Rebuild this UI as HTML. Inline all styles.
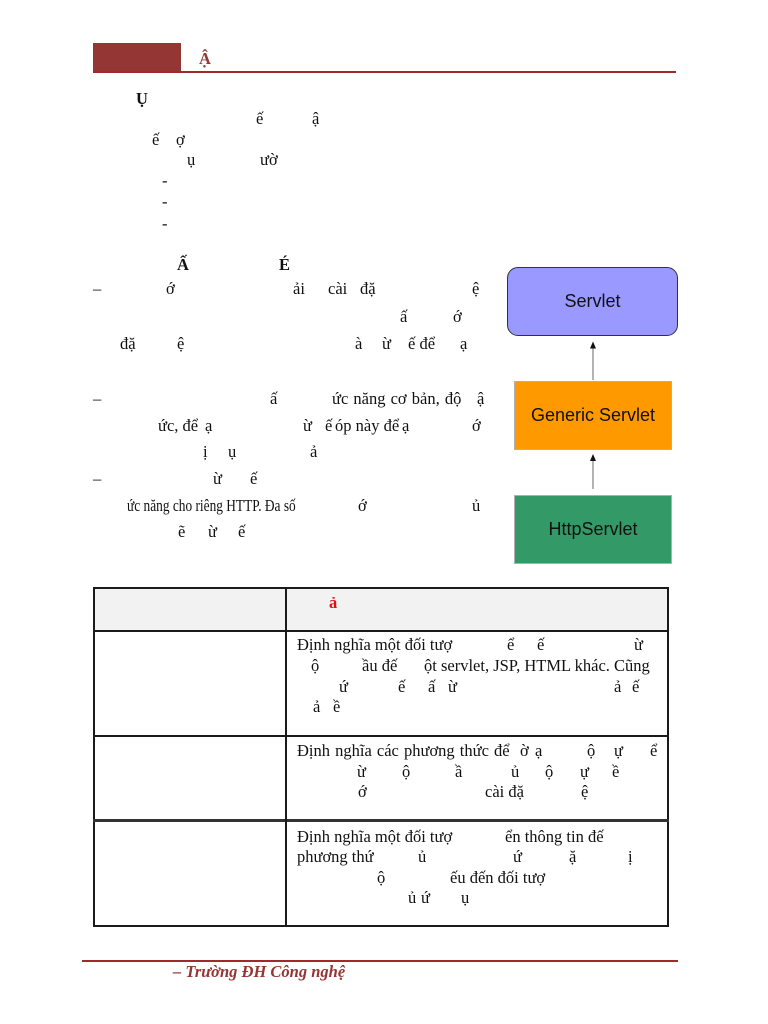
<!DOCTYPE html>
<html>
<head>
<meta charset="utf-8">
<style>
  html,body{margin:0;padding:0;background:#fff;}
  body{width:768px;height:1024px;position:relative;overflow:hidden;
       font-family:"Liberation Serif","Noto Serif CJK SC",serif;color:#111;}
  .l{position:absolute;left:0;width:768px;height:20px;font-size:16.5px;line-height:20px;}
  .l span{position:absolute;top:0;white-space:pre;}
  .b{font-weight:bold;}
  .box{position:absolute;box-sizing:border-box;display:flex;align-items:center;justify-content:center;
       font-family:"Liberation Sans",Arial,sans-serif;font-size:18px;color:#111;}
  .hl{position:absolute;background:#1a1a1a;}
</style>
</head>
<body>

<!-- Header -->
<div style="position:absolute;left:93px;top:43px;width:88px;height:29px;background:#943634;"></div>
<div style="position:absolute;left:93px;top:71px;width:583px;height:2px;background:#a0292c;"></div>
<div class="l b" style="top:48.5px;color:#943634;"><span style="left:199px">Ậ</span></div>

<!-- Section 1 -->
<div class="l b" style="top:88.5px"><span style="left:136px">Ụ</span></div>
<div class="l" style="top:108.5px"><span style="left:256px">ế</span><span style="left:312px">ậ</span></div>
<div class="l" style="top:129.5px"><span style="left:152px">ế</span><span style="left:176px">ợ</span></div>
<div class="l" style="top:149.5px"><span style="left:187px">ụ</span><span style="left:260px">ườ</span></div>
<div class="l" style="top:170.5px"><span style="left:162px">-</span></div>
<div class="l" style="top:191.5px"><span style="left:162px">-</span></div>
<div class="l" style="top:213.5px"><span style="left:162px">-</span></div>

<!-- Section 2 -->
<div class="l b" style="top:254.5px"><span style="left:177px">Ấ</span><span style="left:279px">É</span></div>
<div class="l" style="top:278.5px">
  <span style="left:93px">–</span><span style="left:166px">ớ</span><span style="left:293px">ải</span>
  <span style="left:328px">cài</span><span style="left:360px">đặ</span><span style="left:472px">ệ</span>
</div>
<div class="l" style="top:306.5px"><span style="left:400px">ấ</span><span style="left:453px">ớ</span></div>
<div class="l" style="top:333.5px">
  <span style="left:120px">đặ</span><span style="left:177px">ệ</span><span style="left:355px">à</span>
  <span style="left:382px">ừ</span><span style="left:408px">ế để</span><span style="left:460px">ạ</span>
</div>
<div class="l" style="top:388.5px">
  <span style="left:93px">–</span><span style="left:270px">ấ</span>
  <span style="left:332px;word-spacing:1px">ức năng cơ bản, độ</span><span style="left:477px">ậ</span>
</div>
<div class="l" style="top:415.5px">
  <span style="left:158px">ức, để</span><span style="left:205px">ạ</span><span style="left:303px">ừ</span>
  <span style="left:325px">ế</span><span style="left:335px">óp này để</span><span style="left:402px">ạ</span><span style="left:472px">ớ</span>
</div>
<div class="l" style="top:441.5px"><span style="left:203px">ị</span><span style="left:228px">ụ</span><span style="left:310px">ả</span></div>
<div class="l" style="top:468.5px"><span style="left:93px">–</span><span style="left:213px">ừ</span><span style="left:250px">ế</span></div>
<div class="l" style="top:495.5px">
  <span style="left:127px;transform:scaleX(0.81);transform-origin:0 0;">ức năng cho riêng HTTP. Đa số</span>
  <span style="left:358px">ớ</span><span style="left:472px">ủ</span>
</div>
<div class="l" style="top:521.5px"><span style="left:178px">ẽ</span><span style="left:208px">ừ</span><span style="left:238px">ế</span></div>

<!-- Diagram -->
<div class="box" style="left:507px;top:267px;width:171px;height:69px;background:#9999ff;border:1px solid #333;border-radius:11px;">Servlet</div>
<div class="box" style="left:514px;top:381px;width:158px;height:69px;background:#ff9900;border:1px solid #b0b0b0;">Generic Servlet</div>
<div class="box" style="left:514px;top:495px;width:158px;height:69px;background:#339966;border:1px solid #b0b0b0;">HttpServlet</div>
<svg style="position:absolute;left:0;top:0" width="768" height="1024">
  <line x1="593" y1="380" x2="593" y2="346" stroke="#808080" stroke-width="1.2"/>
  <polygon points="593,341.5 590,348.5 596,348.5" fill="#111"/>
  <line x1="593" y1="489" x2="593" y2="459" stroke="#808080" stroke-width="1.2"/>
  <polygon points="593,454 590,461 596,461" fill="#111"/>
</svg>

<!-- Table -->
<div style="position:absolute;left:94px;top:588px;width:574px;height:42px;background:#f2f2f2;"></div>
<div style="position:absolute;left:93px;top:587px;width:576px;height:340px;box-sizing:border-box;border:2px solid #1a1a1a;"></div>
<div class="hl" style="left:93px;top:629.5px;width:576px;height:2px;"></div>
<div class="hl" style="left:93px;top:734.5px;width:576px;height:2px;"></div>
<div class="hl" style="left:93px;top:818.5px;width:576px;height:3px;background:#333;"></div>
<div class="hl" style="left:285px;top:587px;width:2px;height:340px;"></div>

<div class="l b" style="top:592.5px;color:#e01010;"><span style="left:329px">ả</span></div>

<!-- Row 2 -->
<div class="l" style="top:634.5px">
  <span style="left:297px">Định nghĩa một đối tượ</span><span style="left:507px">ể</span>
  <span style="left:537px">ế</span><span style="left:634px">ừ</span>
</div>
<div class="l" style="top:655.5px">
  <span style="left:311px">ộ</span><span style="left:362px">ầu đế</span>
  <span style="left:424px">ột servlet, JSP, HTML khác. Cũng</span>
</div>
<div class="l" style="top:676.5px">
  <span style="left:339px">ứ</span><span style="left:398px">ế</span><span style="left:428px">ấ</span>
  <span style="left:448px">ừ</span><span style="left:614px">ả</span><span style="left:632px">ế</span>
</div>
<div class="l" style="top:696.5px"><span style="left:313px">ả</span><span style="left:333px">ề</span></div>

<!-- Row 3 -->
<div class="l" style="top:740.5px">
  <span style="left:297px;word-spacing:1px">Định nghĩa các phương thức để</span>
  <span style="left:520px">ờ</span><span style="left:535px">ạ</span><span style="left:587px">ộ</span>
  <span style="left:614px">ự</span><span style="left:650px">ể</span>
</div>
<div class="l" style="top:761.5px">
  <span style="left:357px">ừ</span><span style="left:402px">ộ</span><span style="left:455px">ầ</span>
  <span style="left:511px">ủ</span><span style="left:545px">ộ</span><span style="left:580px">ự</span><span style="left:612px">ề</span>
</div>
<div class="l" style="top:781.5px"><span style="left:358px">ớ</span><span style="left:485px">cài đặ</span><span style="left:581px">ệ</span></div>

<!-- Row 4 -->
<div class="l" style="top:826.5px">
  <span style="left:297px">Định nghĩa một đối tượ</span><span style="left:505px">ển thông tin đế</span>
</div>
<div class="l" style="top:846.5px">
  <span style="left:297px">phương thứ</span><span style="left:418px">ủ</span><span style="left:513px">ứ</span>
  <span style="left:569px">ặ</span><span style="left:628px">ị</span>
</div>
<div class="l" style="top:867.5px"><span style="left:377px">ộ</span><span style="left:450px">ếu đến đối tượ</span></div>
<div class="l" style="top:887.5px"><span style="left:408px">ủ</span><span style="left:421px">ứ</span><span style="left:461px">ụ</span></div>

<!-- Footer -->
<div style="position:absolute;left:82px;top:959.5px;width:596px;height:2px;background:#a0292c;"></div>
<div style="position:absolute;left:173px;top:961.5px;height:20px;font-size:16.5px;line-height:20px;font-weight:bold;font-style:italic;color:#943634;white-space:pre;">– Trường ĐH Công nghệ</div>

</body>
</html>
